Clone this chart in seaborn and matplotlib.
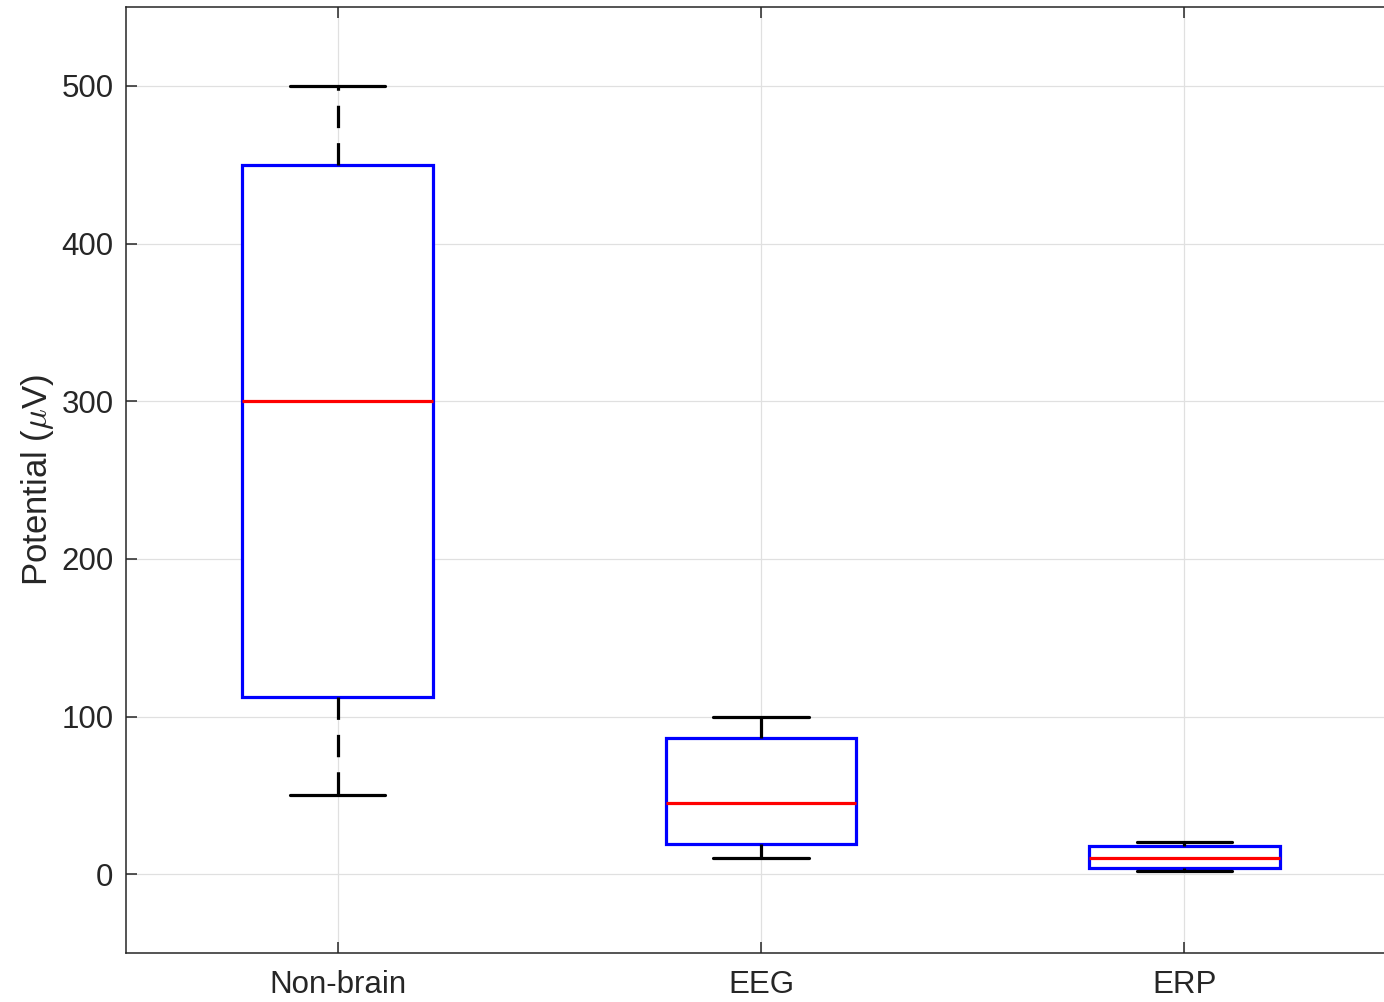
import pandas as pd
import seaborn as sns
from matplotlib import pyplot as plt

# five-number summaries: low whisker, Q1, median, Q3, high whisker
categories = ['Non-brain', 'EEG', 'ERP']
non_brain = [50, 112.5, 300, 450, 500]
eeg = [10.3, 19.4, 45.1, 86.3, 100]
erp = [1.7, 3.6, 10.3, 17.9, 20.3]

df = pd.DataFrame({
    'group': [categories[0]] * 5 + [categories[1]] * 5 + [categories[2]] * 5,
    'value': non_brain + eeg + erp,
})

sns.set_style('white')
plt.rcParams['font.family'] = ['Liberation Sans', 'DejaVu Sans']
plt.rcParams['mathtext.fontset'] = 'cm'

fig = plt.figure(figsize=(13.84, 10.02), dpi=100)
ax = fig.add_axes([126 / 1384, 1 - 953 / 1002, 1270 / 1384, 946 / 1002])

sns.boxplot(data=df, x='group', y='value', order=categories, width=0.45, whis=1.5,
            showfliers=False, ax=ax,
            boxprops=dict(facecolor='white', edgecolor='#0000ff', linewidth=2.3),
            medianprops=dict(color='#ff0000', linewidth=2.3),
            whiskerprops=dict(color='black', linewidth=2.3, linestyle=(0, (7, 4.7))),
            capprops=dict(color='black', linewidth=2.3))

ax.set_xlim(-0.5, 2.5)
ax.set_ylim(-50, 550)
ax.set_yticks([0, 100, 200, 300, 400, 500])
ax.set_xlabel('')
ax.set_ylabel(r'Potential ($\mu$V)', fontsize=25, color='#262626', labelpad=4)
ax.grid(True, color='#e0e0e0', linewidth=0.9)
ax.set_axisbelow(True)
for s in ax.spines.values():
    s.set_color('#262626')
    s.set_linewidth(1.1)
    s.set_visible(True)
ax.tick_params(direction='in', length=8, width=1.1, top=True, right=True,
               bottom=True, left=True,
               labelsize=22.5, labelcolor='#262626', color='#262626')
ax.tick_params(axis='y', pad=9)
ax.tick_params(axis='x', pad=12)

fig.savefig('out.png', dpi=100)
